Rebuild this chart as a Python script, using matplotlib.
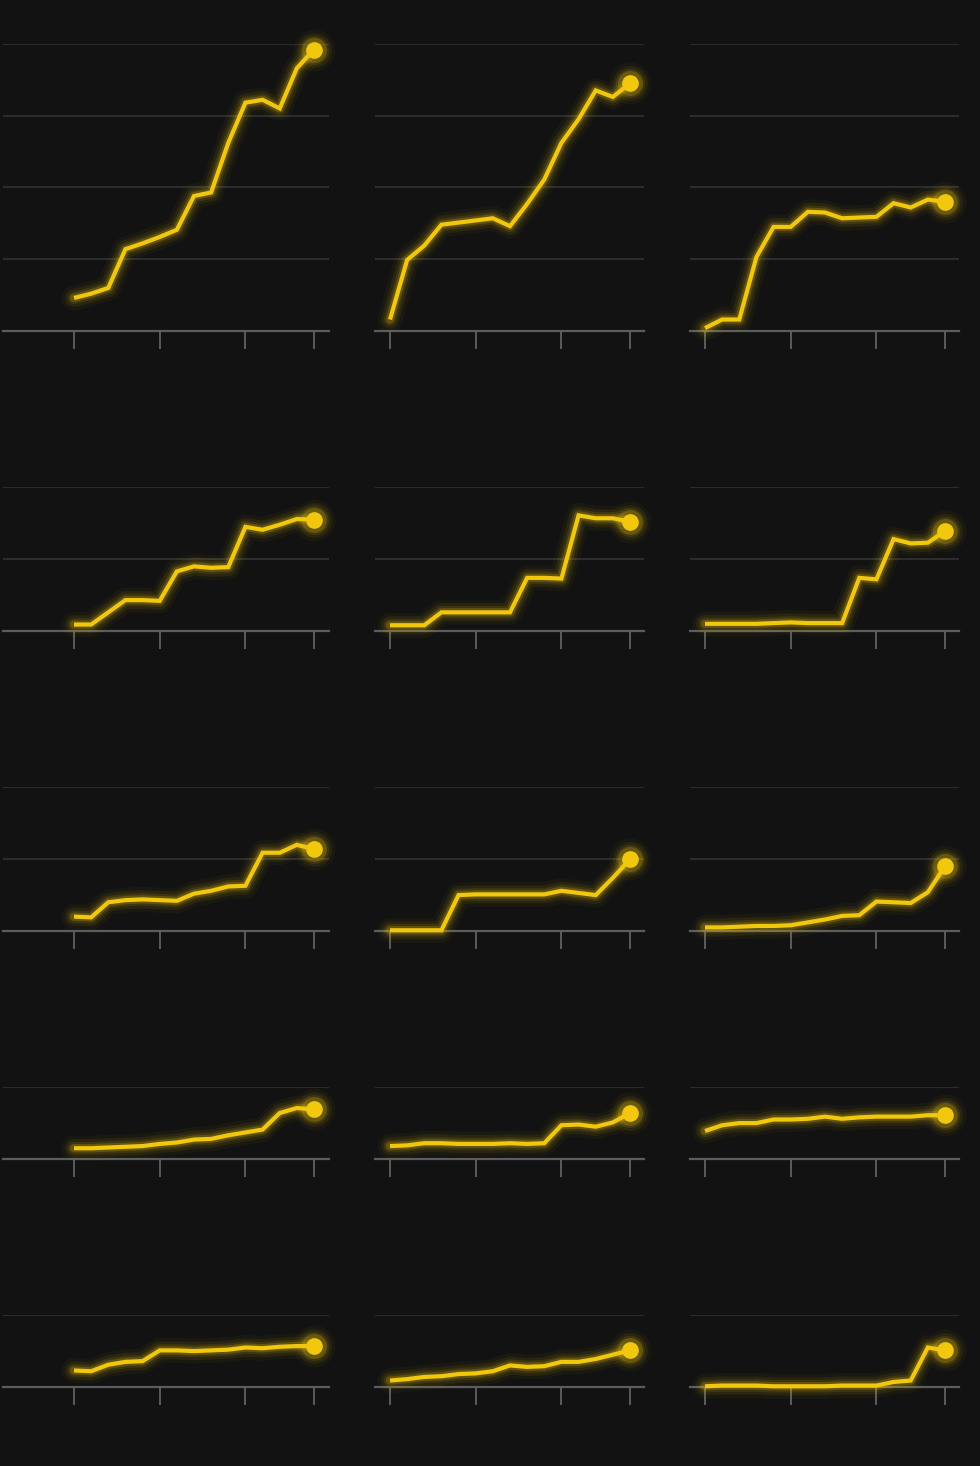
import matplotlib
matplotlib.use("Agg")
import matplotlib.pyplot as plt

years = list(range(2010, 2025))
tick_years = [2010, 2015, 2020, 2024]

# values in grid units (one unit = one gridline step)
panel_01 = [0.46, 0.52, 0.60, 1.14, 1.22, 1.31, 1.41, 1.88, 1.93, 2.62, 3.18, 3.22, 3.10, 3.66, 3.92]
panel_02 = [0.16, 0.99, 1.19, 1.48, 1.51, 1.54, 1.57, 1.46, 1.77, 2.11, 2.62, 2.95, 3.35, 3.26, 3.45]
panel_03 = [0.04, 0.16, 0.16, 1.03, 1.45, 1.45, 1.66, 1.65, 1.57, 1.58, 1.59, 1.78, 1.72, 1.83, 1.80]
panel_04 = [0.09, 0.09, 0.26, 0.43, 0.43, 0.42, 0.83, 0.90, 0.88, 0.89, 1.45, 1.41, 1.48, 1.56, 1.55]
panel_05 = [0.08, 0.08, 0.08, 0.26, 0.26, 0.26, 0.26, 0.26, 0.74, 0.74, 0.73, 1.61, 1.57, 1.57, 1.52]
panel_06 = [0.10, 0.10, 0.10, 0.10, 0.11, 0.12, 0.11, 0.11, 0.11, 0.74, 0.72, 1.28, 1.22, 1.23, 1.39]
panel_07 = [0.20, 0.19, 0.40, 0.43, 0.44, 0.43, 0.42, 0.52, 0.56, 0.62, 0.63, 1.09, 1.09, 1.20, 1.14]
panel_08 = [0.01, 0.01, 0.01, 0.01, 0.50, 0.51, 0.51, 0.51, 0.51, 0.51, 0.56, 0.53, 0.50, 0.74, 1.00]
panel_09 = [0.05, 0.05, 0.06, 0.07, 0.07, 0.08, 0.12, 0.16, 0.21, 0.22, 0.41, 0.40, 0.39, 0.54, 0.90]
panel_10 = [0.15, 0.15, 0.16, 0.17, 0.18, 0.21, 0.23, 0.27, 0.28, 0.33, 0.37, 0.41, 0.64, 0.71, 0.69]
panel_11 = [0.18, 0.19, 0.22, 0.22, 0.21, 0.21, 0.21, 0.22, 0.21, 0.22, 0.47, 0.48, 0.45, 0.51, 0.64]
panel_12 = [0.39, 0.47, 0.50, 0.50, 0.55, 0.55, 0.56, 0.59, 0.56, 0.58, 0.59, 0.59, 0.59, 0.61, 0.61]
panel_13 = [0.23, 0.22, 0.31, 0.35, 0.36, 0.51, 0.51, 0.50, 0.51, 0.52, 0.55, 0.54, 0.56, 0.57, 0.57]
panel_14 = [0.09, 0.11, 0.14, 0.15, 0.18, 0.19, 0.22, 0.30, 0.28, 0.29, 0.35, 0.35, 0.39, 0.45, 0.51]
panel_15 = [0.01, 0.02, 0.02, 0.02, 0.01, 0.01, 0.01, 0.01, 0.02, 0.02, 0.02, 0.07, 0.09, 0.55, 0.51]

panels = [
    [panel_01, panel_02, panel_03],
    [panel_04, panel_05, panel_06],
    [panel_07, panel_08, panel_09],
    [panel_10, panel_11, panel_12],
    [panel_13, panel_14, panel_15],
]
row_units = [4, 2, 2, 1, 1]

BG = "#121212"
YELLOW = "#f2c80f"
GRID = "#2c2c2c"
AXIS = "#5c5c5c"

W, H = 980, 1466
fig = plt.figure(figsize=(W / 100, H / 100), dpi=100, facecolor=BG)

# layout in pixels
col_px = [(3, 329, 74), (375, 644, 390), (690, 959, 705)]  # left, right, x of first year
px_per_year = (314 - 74) / 14
baselines = [331, 631, 931, 1159, 1387]
unit_px = 71.8

for r, row in enumerate(panels):
    n = row_units[r]
    base = baselines[r]
    top = base - n * unit_px
    for c, vals in enumerate(row):
        left, right, x0 = col_px[c]
        ax = fig.add_axes([left / W, 1 - base / H, (right - left) / W, (base - top) / H])
        ax.set_facecolor(BG)
        ax.set_xlim(2010 + (left - x0) / px_per_year, 2010 + (right - x0) / px_per_year)
        ax.set_ylim(0, n)

        for s in ["top", "right", "left"]:
            ax.spines[s].set_visible(False)
        ax.spines["bottom"].set_color(AXIS)
        ax.spines["bottom"].set_linewidth(1.6)

        ax.set_yticks(range(1, n + 1))
        ax.yaxis.grid(True, color=GRID, linewidth=1.5)
        ax.tick_params(axis="y", length=0, labelleft=False)
        ax.set_xticks(tick_years)
        ax.tick_params(axis="x", direction="out", length=13, width=1.4,
                       color=AXIS, labelbottom=False)
        ax.set_axisbelow(True)

        # glow
        for lw, a in [(18, 0.04), (13, 0.07), (9, 0.11), (6, 0.2)]:
            ax.plot(years, vals, color=YELLOW, linewidth=lw, alpha=a, zorder=3,
                    solid_capstyle="round", solid_joinstyle="round", clip_on=False)
            ax.plot(years[-1], vals[-1], "o", color=YELLOW, markersize=12 + lw,
                    alpha=a, markeredgewidth=0, zorder=3, clip_on=False)
        ax.plot(years, vals, color=YELLOW, linewidth=3, solid_joinstyle="miter",
                solid_capstyle="butt", zorder=4, clip_on=False)
        ax.plot(years[-1], vals[-1], "o", color=YELLOW, markersize=12,
                markeredgewidth=0, zorder=4, clip_on=False)

fig.savefig("out.png", dpi=100, facecolor=BG)
